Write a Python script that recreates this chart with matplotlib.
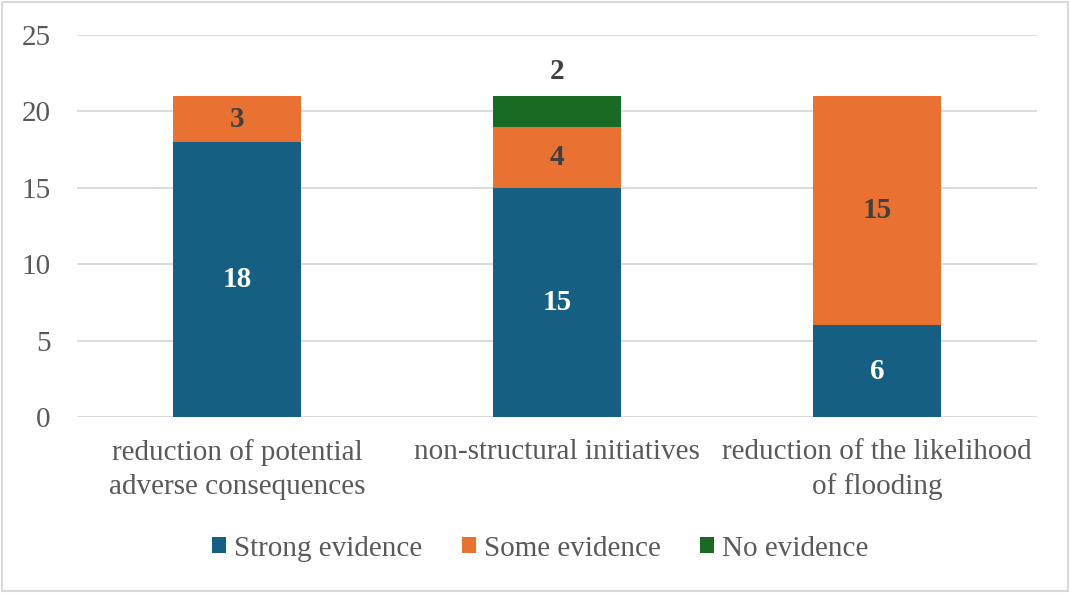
import matplotlib.pyplot as plt
from matplotlib.patches import Rectangle

plt.rcParams['font.family'] = ['Liberation Serif', 'DejaVu Serif']

categories = ["reduction of potential\nadverse consequences",
              "non-structural initiatives",
              "reduction of the likelihood\nof flooding"]
strong = [18, 15, 6]
some = [3, 4, 15]
none_ = [0, 2, 0]

c_strong = "#156082"
c_some = "#E97132"
c_none = "#196B24"
grey = "#595959"
fs = 21

fig = plt.figure(figsize=(10.7, 5.93), dpi=100)
ax = fig.add_axes([0.072, 0.297, 0.897, 0.644])

x = range(len(categories))
w = 0.4
b1 = ax.bar(x, strong, w, color=c_strong, label="Strong evidence", zorder=3)
b2 = ax.bar(x, some, w, bottom=strong, color=c_some, label="Some evidence", zorder=3)
bottom3 = [s + o for s, o in zip(strong, some)]
b3 = ax.bar(x, none_, w, bottom=bottom3, color=c_none, label="No evidence", zorder=3)

for i in x:
    if strong[i]:
        ax.text(i, strong[i] / 2, str(strong[i]), ha="center", va="center",
                color="white", fontsize=fs, fontweight="bold", zorder=4)
    if some[i]:
        ax.text(i, strong[i] + some[i] / 2, str(some[i]), ha="center", va="center",
                color="#404040", fontsize=fs, fontweight="bold", zorder=4)
    if none_[i]:
        # label sits above the bar
        ax.text(i, bottom3[i] + none_[i] + 1.6, str(none_[i]), ha="center", va="center",
                color="#404040", fontsize=fs, fontweight="bold", zorder=4)

ax.set_ylim(0, 25)
ax.set_xlim(-0.5, 2.5)
ax.set_yticks(range(0, 26, 5))
ax.set_xticks(list(x))
ax.set_xticklabels(categories, fontsize=fs, color=grey, linespacing=1.4)
ax.tick_params(axis="y", labelsize=fs, labelcolor=grey, length=0, pad=19)
ax.tick_params(axis="x", length=0, pad=16)
ax.grid(axis="y", color="#d9d9d9", linewidth=1.3, zorder=0)
for s in ax.spines.values():
    s.set_visible(False)

fig.legend(handles=[b1, b2, b3], loc="center", bbox_to_anchor=(0.505, 0.075),
           ncol=3, frameon=False, fontsize=fs, labelcolor=grey,
           handlelength=0.48, handleheight=0.48, handletextpad=0.28,
           columnspacing=1.34, borderpad=0)

fig.patches.append(Rectangle((0.002, 0.003), 0.996, 0.994, transform=fig.transFigure,
                             fill=False, edgecolor="#d9d9d9", linewidth=1.5))

fig.savefig("out.png", dpi=100)
